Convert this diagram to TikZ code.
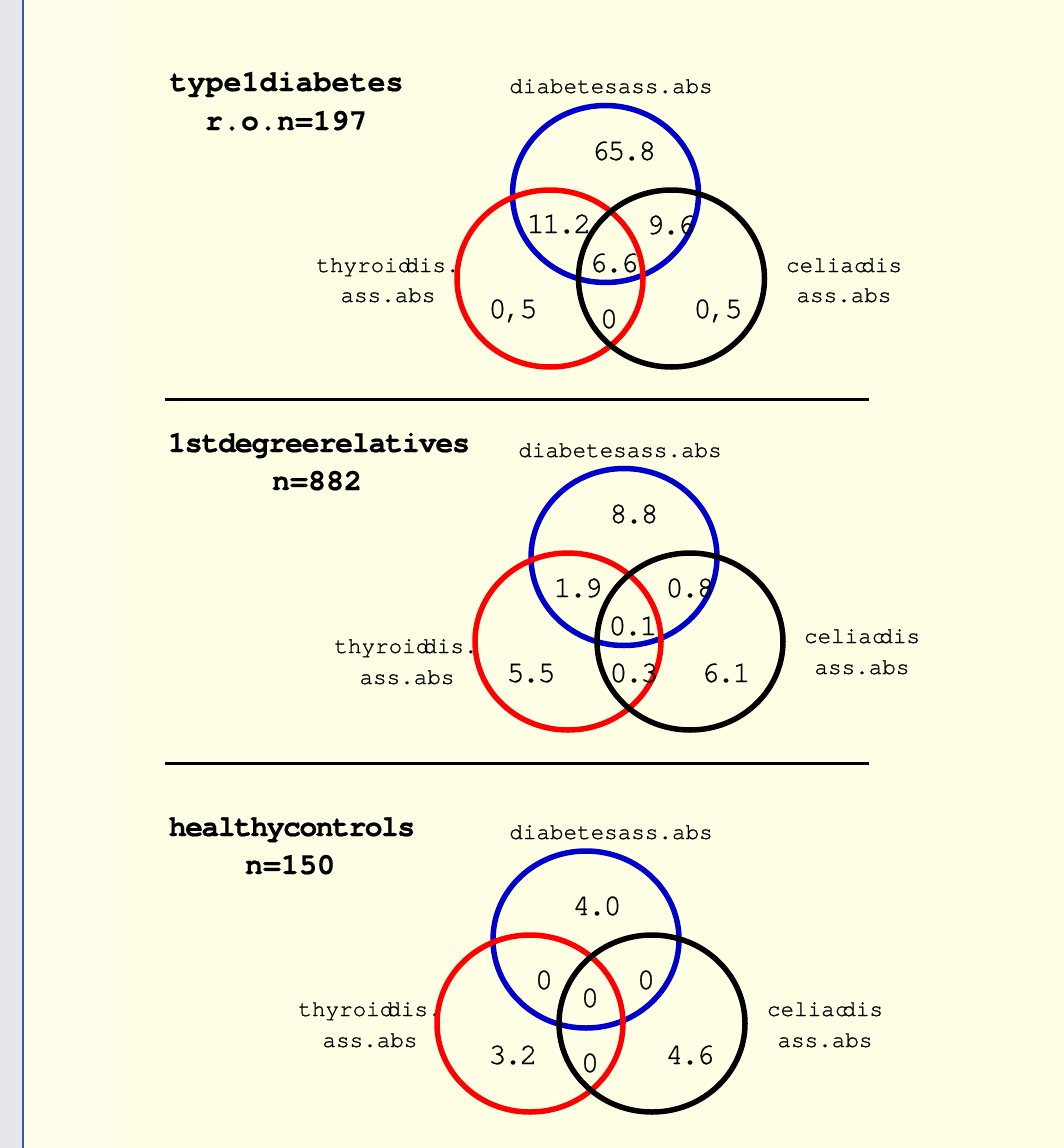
\documentclass[tikz,border=0pt]{standalone}
\usepackage{fontspec}
\newfontfamily\monofam{TeX Gyre Cursor}[FakeBold=1]
\newfontfamily\numfam{TeX Gyre Cursor}[FakeBold=1,LetterSpace=-8.3]
\newfontfamily\titlefam{TeX Gyre Cursor Bold}[FakeBold=0.6]
\newfontfamily\titlefamtight{TeX Gyre Cursor Bold}[FakeBold=0.6,LetterSpace=-4.3]
\newfontfamily\titlefamtighter{TeX Gyre Cursor Bold}[FakeBold=0.6,LetterSpace=-5.6]
\usetikzlibrary{shapes.geometric}
\definecolor{sidegrey}{RGB}{230,231,235}
\definecolor{sideline}{RGB}{55,85,190}
\definecolor{paneA}{RGB}{255,253,234}
\definecolor{paneB}{RGB}{255,255,230}
\definecolor{vblue}{RGB}{0,0,204}
\definecolor{vred}{RGB}{255,0,0}
\tikzset{
  title/.style={inner sep=0pt, anchor=base, font=\titlefam\fontsize{30}{30}\selectfont},
  setlabel/.style={inner sep=0pt, anchor=base, font=\monofam\fontsize{22.6}{22.6}\selectfont},
  num/.style={inner sep=0pt, anchor=base, font=\numfam\fontsize{30}{30}\selectfont},
  vset/.style={ellipse, draw, line width=5.5pt, inner sep=0pt, minimum width=186pt, minimum height=177pt},
  sep/.style={line width=3pt}
}
\begin{document}
\begin{tikzpicture}[x=1pt,y=-1pt]
\useasboundingbox (0,0) rectangle (1064,1148);
\fill[sidegrey] (0,0) rectangle (22,1148);
\fill[paneA] (22,0) rectangle (125,1148);
\fill[paneB] (125,0) rectangle (1064,1148);
\draw[sideline, line width=2pt] (23,0) -- (23,1148);

% ---------- panel 1 ----------
\node[title] (t1a) at (286.5,91) {type1diabetes};
\node[title] (t1b) at (286,130) {r.o.n=197};
\node[setlabel] (d1) at (611,93) {diabetesass.abs};
\node[setlabel] (th1a) at (388,272) {thyroid\kern-6pt dis.};
\node[setlabel] (th1b) at (388,302) {ass.abs};
\node[setlabel] (ce1a) at (844,272) {celiac\kern-6pt dis};
\node[setlabel] (ce1b) at (844,302) {ass.abs};
\node[vset, draw=vblue] (b1) at (605.5,194) {};
\node[vset, draw=vred] (r1) at (550,278.5) {};
\node[vset, draw=black] (k1) at (671.5,278.5) {};
\node[num] (n1a) at (624,160) {65.8};
\node[num] (n1b) at (559,233) {11.2};
\node[num] (n1c) at (671,234) {9.6};
\node[num] (n1d) at (614,272) {6.6};
\node[num] (n1e) at (513,318) {0,5};
\node[num] (n1f) at (609,328) {0};
\node[num] (n1g) at (718,318) {0,5};
\coordinate (s1l) at (165,399);
\coordinate (s1r) at (869,399);
\draw[sep] (s1l) -- (s1r);

% ---------- panel 2 ----------
\node[title, font=\titlefamtight\fontsize{30}{30}\selectfont] (t2a) at (319,452) {1stdegreerelatives};
\node[title] (t2b) at (317,490) {n=882};
\node[setlabel] (d2) at (620,457) {diabetesass.abs};
\node[setlabel] (th2a) at (406,653) {thyroid\kern-6pt dis.};
\node[setlabel] (th2b) at (407,684) {ass.abs};
\node[setlabel] (ce2a) at (862,643) {celiac\kern-6pt dis};
\node[setlabel] (ce2b) at (862,674) {ass.abs};
\node[vset, draw=vblue] (b2) at (624,557) {};
\node[vset, draw=vred] (r2) at (568,641.5) {};
\node[vset, draw=black] (k2) at (690,641.5) {};
\node[num] (n2a) at (634,523) {8.8};
\node[num] (n2b) at (578,597) {1.9};
\node[num] (n2c) at (690,597) {0.8};
\node[num] (n2d) at (633,635) {0.1};
\node[num] (n2e) at (531,682) {5.5};
\node[num] (n2f) at (634,682) {0.3};
\node[num] (n2g) at (726,682) {6.1};
\coordinate (s2l) at (165,763);
\coordinate (s2r) at (869,763);
\draw[sep] (s2l) -- (s2r);

% ---------- panel 3 ----------
\node[title, font=\titlefamtighter\fontsize{30}{30}\selectfont] (t3a) at (292,836) {healthycontrols};
\node[title] (t3b) at (290,874) {n=150};
\node[setlabel] (d3) at (611,839) {diabetesass.abs};
\node[setlabel] (th3a) at (370,1016) {thyroid\kern-6pt dis.};
\node[setlabel] (th3b) at (370,1047) {ass.abs};
\node[setlabel] (ce3a) at (825,1016) {celiac\kern-6pt dis};
\node[setlabel] (ce3b) at (825,1047) {ass.abs};
\node[vset, draw=vblue] (b3) at (586,939.5) {};
\node[vset, draw=vred] (r3) at (530,1023.5) {};
\node[vset, draw=black] (k3) at (652,1023.5) {};
\node[num] (n3a) at (597,915) {4.0};
\node[num] (n3b) at (544,989) {0};
\node[num] (n3c) at (646,989) {0};
\node[num] (n3d) at (590,1007) {0};
\node[num] (n3e) at (513,1064) {3.2};
\node[num] (n3f) at (590,1072) {0};
\node[num] (n3g) at (690,1064) {4.6};
\end{tikzpicture}
\end{document}
